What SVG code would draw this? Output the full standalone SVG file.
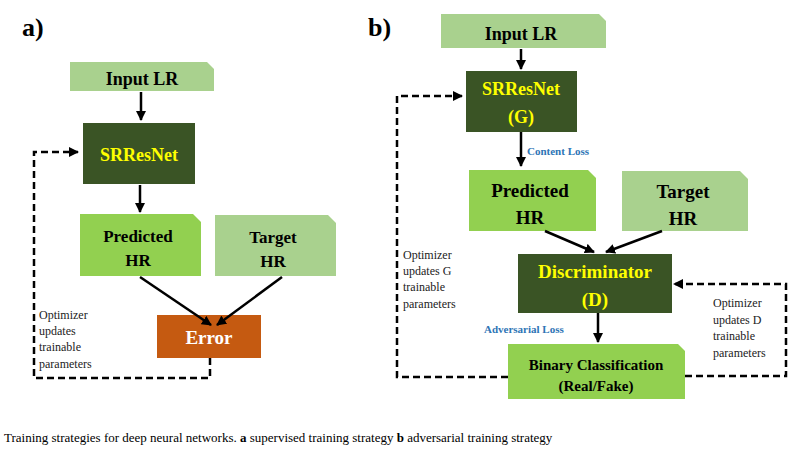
<svg xmlns="http://www.w3.org/2000/svg" width="800" height="450" viewBox="0 0 800 450">
<style>
text{font-family:"Liberation Serif","DejaVu Serif",serif;}
.b{font-weight:bold;text-anchor:middle;}
.lt{fill:#a9d18e;}
.md{fill:#92d050;}
.dk{fill:#3a5425;}
.y{fill:#ffff00;}
.n{font-size:12px;fill:#222;}
.bl{fill:#2e75b6;font-weight:bold;font-size:11px;}
.s{stroke:#000;stroke-width:2.5;fill:none;}
.d{stroke:#000;stroke-width:2.5;fill:none;stroke-dasharray:7,4;}
</style>
<defs><marker id="ah" viewBox="0 0 10 10" refX="9" refY="5" markerWidth="4" markerHeight="4" orient="auto"><path d="M0,0L10,5L0,10z" fill="#000"/></marker></defs>
<rect width="800" height="450" fill="#fff"/>
<text x="22" y="36" font-size="26" font-weight="bold">a)</text>
<text x="368" y="36" font-size="26" font-weight="bold">b)</text>
<g id="a_input"><path class="lt" d="M70,62H207L214,69V91H70z"/><text class="b" x="142" y="85" font-size="18">Input LR</text></g>
<g id="a_srresnet"><rect class="dk" x="83" y="123" width="112" height="61"/><text class="b y" x="139" y="161" font-size="18">SRResNet</text></g>
<g id="a_pred"><path class="md" d="M80,214H193L201,222V276H80z"/><text class="b" x="138" y="242" font-size="17">Predicted</text><text class="b" x="138" y="266" font-size="17">HR</text></g>
<g id="a_target"><path class="lt" d="M215,215H328L336,223V276H215z"/><text class="b" x="273" y="243" font-size="17">Target</text><text class="b" x="273" y="267" font-size="17">HR</text></g>
<g id="a_error"><rect x="157" y="315" width="104" height="43" fill="#c55a11"/><text class="b" x="209" y="344" font-size="19" fill="#fff">Error</text></g>
<text class="n"><tspan x="39" y="319">Optimizer</tspan><tspan x="39" y="335">updates</tspan><tspan x="39" y="351">trainable</tspan><tspan x="39" y="368">parameters</tspan></text>
<g id="b_input"><path class="lt" d="M441,14H599L606,21V48H441z"/><text class="b" x="521" y="40" font-size="18">Input LR</text></g>
<g id="b_g"><rect class="dk" x="466" y="71" width="111" height="61"/><text class="b y" x="521" y="95" font-size="18">SRResNet</text><text class="b y" x="521" y="123" font-size="18">(G)</text></g>
<g id="b_pred"><path class="md" d="M469,170H588L596,178V231H469z"/><text class="b" x="530" y="197" font-size="19">Predicted</text><text class="b" x="530" y="224" font-size="19">HR</text></g>
<g id="b_target"><path class="lt" d="M622,171H740L748,179V231H622z"/><text class="b" x="683" y="198" font-size="19">Target</text><text class="b" x="683" y="225" font-size="19">HR</text></g>
<g id="b_disc"><rect class="dk" x="518" y="254" width="154" height="59"/><text class="b y" x="595" y="278" font-size="19">Discriminator</text><text class="b y" x="595" y="306" font-size="19">(D)</text></g>
<g id="b_bin"><path class="md" d="M508,344H678L685,351V399H508z"/><text class="b" x="596" y="370" font-size="15">Binary Classification</text><text class="b" x="596" y="391" font-size="15">(Real/Fake)</text></g>
<text class="bl" x="527" y="155">Content Loss</text>
<text class="bl" x="484" y="333">Adversarial Loss</text>
<text class="n"><tspan x="403" y="259">Optimizer</tspan><tspan x="403" y="275">updates G</tspan><tspan x="403" y="291">trainable</tspan><tspan x="403" y="308">parameters</tspan></text>
<text class="n"><tspan x="713" y="307">Optimizer</tspan><tspan x="713" y="324">updates D</tspan><tspan x="713" y="340">trainable</tspan><tspan x="713" y="357">parameters</tspan></text>
<g id="connectors">
<line class="s" x1="141" y1="92" x2="141" y2="120" marker-end="url(#ah)"/>
<line class="s" x1="140" y1="185" x2="140" y2="212" marker-end="url(#ah)"/>
<line class="s" x1="140" y1="277" x2="211" y2="325" marker-end="url(#ah)"/>
<line class="s" x1="282" y1="277" x2="217" y2="325" marker-end="url(#ah)"/>
<path class="d" d="M210,358V378H34V152H78" marker-end="url(#ah)"/>
<line class="s" x1="521" y1="49" x2="521" y2="69" marker-end="url(#ah)"/>
<line class="s" x1="521" y1="132" x2="521" y2="166" marker-end="url(#ah)"/>
<line class="s" x1="545" y1="231" x2="594" y2="252" marker-end="url(#ah)"/>
<line class="s" x1="662" y1="231" x2="606" y2="252" marker-end="url(#ah)"/>
<line class="s" x1="598" y1="313" x2="598" y2="342" marker-end="url(#ah)"/>
<path class="d" d="M508,377H397V96H462" marker-end="url(#ah)"/>
<path class="d" d="M685,376H786V284H674" marker-end="url(#ah)"/>
</g>
<text x="4" y="442" font-size="13">Training strategies for deep neural networks. <tspan font-weight="bold">a</tspan> supervised training strategy <tspan font-weight="bold">b</tspan> adversarial training strategy</text>
</svg>
